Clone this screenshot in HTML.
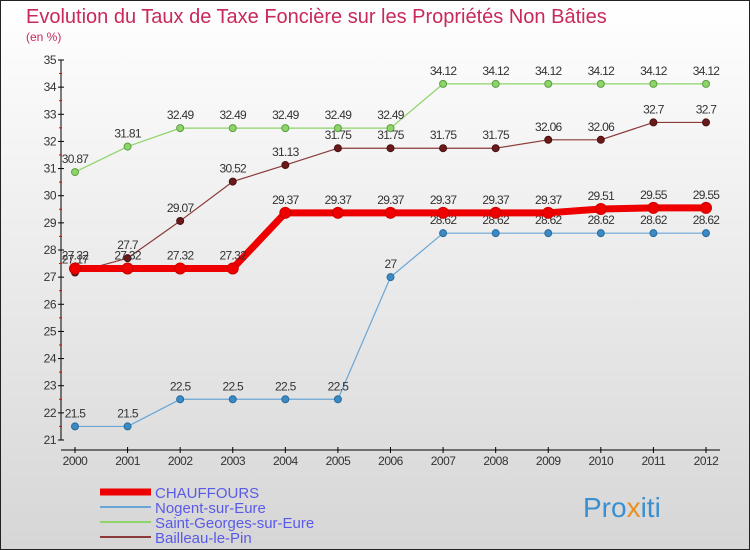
<!DOCTYPE html>
<html><head><meta charset="utf-8"><style>
body{margin:0;width:750px;height:550px;overflow:hidden;font-family:"Liberation Sans",sans-serif}
svg{display:block}
</style></head><body>
<svg id="chart" width="750" height="550" xmlns="http://www.w3.org/2000/svg">
<defs><linearGradient id="bg" x1="0" y1="0" x2="0" y2="1"><stop offset="0" stop-color="#ffffff"/><stop offset="1" stop-color="#d6d6d6"/></linearGradient></defs>
<rect x="0.5" y="0.5" width="749" height="549" fill="url(#bg)" stroke="#222"/>
<text x="26" y="23" font-size="20" fill="#c8285a">Evolution du Taux de Taxe Foncière sur les Propriétés Non Bâties</text>
<text x="26" y="41" font-size="12" fill="#c8285a">(en %)</text>
<g id="axes"></g><g id="series"></g><g id="legend"></g>
<text x="583" y="517" font-size="28" fill="#3a8fd0">Pro<tspan fill="#e89020">x</tspan>iti</text>
</svg>
<script>
const years=[2000,2001,2002,2003,2004,2005,2006,2007,2008,2009,2010,2011,2012];
const yTicks=[21,22,23,24,25,26,27,28,29,30,31,32,33,34,35];
const chauffours=[27.32,27.32,27.32,27.32,29.37,29.37,29.37,29.37,29.37,29.37,29.51,29.55,29.55];
const nogent=[21.5,21.5,22.5,22.5,22.5,22.5,27,28.62,28.62,28.62,28.62,28.62,28.62];
const saintGeorges=[30.87,31.81,32.49,32.49,32.49,32.49,32.49,34.12,34.12,34.12,34.12,34.12,34.12];
const bailleau=[27.17,27.7,29.07,30.52,31.13,31.75,31.75,31.75,31.75,32.06,32.06,32.7,32.7];
const seriesNames=["CHAUFFOURS","Nogent-sur-Eure","Saint-Georges-sur-Eure","Bailleau-le-Pin"];
const NS="http://www.w3.org/2000/svg";
const xS=i=>75+i*(706-75)/(years.length-1);
const yS=v=>440-(v-21)*(380/14);
function mk(tag,attrs,parent){const e=document.createElementNS(NS,tag);for(const k in attrs)e.setAttribute(k,attrs[k]);parent.appendChild(e);return e;}
const axes=document.getElementById('axes');
let yl=mk('line',{x1:61,y1:60,x2:61,y2:440,stroke:'#000'},axes);


let xl=mk('line',{x1:61,y1:450,x2:720,y2:450,stroke:'#000'},axes);


yTicks.forEach(t=>{const y=yS(t);
 mk('line',{x1:58,y1:y,x2:64,y2:y,stroke:'#000'},axes);
 if(t<35){mk('line',{x1:59,y1:y-13.6,x2:62,y2:y-13.6,stroke:'#e00'},axes);}
 const tx=mk('text',{x:56,y:y+4,'font-size':12,fill:'#333','text-anchor':'end','letter-spacing':'-0.5'},axes);tx.textContent=t;
 
 
});
years.forEach((yr,i)=>{const x=xS(i);
 mk('line',{x1:x,y1:447,x2:x,y2:453,stroke:'#000'},axes);
 const tx=mk('text',{x:x,y:465,'font-size':12,fill:'#333','text-anchor':'middle','letter-spacing':'-0.5'},axes);tx.textContent=yr;
 
 
});
const sg=document.getElementById('series');
function draw(vals,color,w,dot,dotFill,r,name){
 const g=mk('g',{},sg);
 
 
 mk('polyline',{points:vals.map((v,i)=>xS(i)+','+yS(v)).join(' '),fill:'none',stroke:color,'stroke-width':w,'stroke-linejoin':'round'},g);
 vals.forEach((v,i)=>{const c=mk('circle',{cx:xS(i),cy:yS(v),r:r,fill:dotFill,stroke:dot,'stroke-width':1},g);
  
  
  const t=mk('text',{x:xS(i),y:yS(v)-9,'font-size':12,fill:'#333','text-anchor':'middle','letter-spacing':'-0.7'},g);t.textContent=v;});
}
draw(saintGeorges,'#8ed46a',1.2,'#5aa040','#8ed46a',3.5,'series-saint-georges');
draw(bailleau,'#8a3a3a',1.2,'#4a1010','#6a1a1a',3.5,'series-bailleau');
draw(nogent,'#6aa6d6',1.2,'#2a6a9a','#3a8ac6',3.5,'series-nogent');
draw(chauffours,'#ee0000',7,'#cc0000','#ee0000',5.5,'series-chauffours');
const lg=document.getElementById('legend');
const lcol=['#ee0000','#6aa6d6','#8ed46a','#8a3a3a'];const lw=[7,2,2,2];
seriesNames.forEach((n,i)=>{const y=492+i*15;
 const g=mk('g',{},lg);
 
 
 mk('line',{x1:100,y1:y,x2:151,y2:y,stroke:lcol[i],'stroke-width':lw[i]},g);
 const t=mk('text',{x:155,y:y+6,'font-size':15,fill:'#5a5ae8'},g);t.textContent=n;});
</script>
</body></html>
